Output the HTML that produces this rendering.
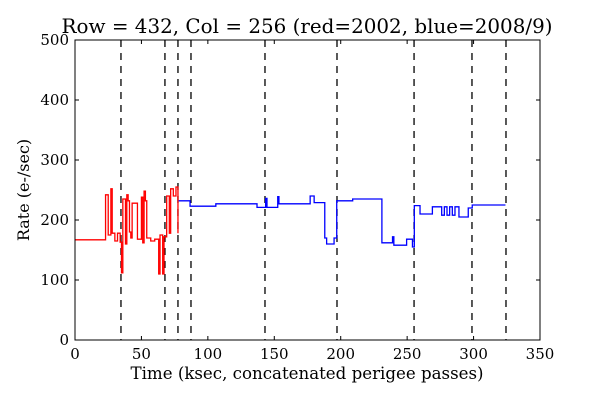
<!DOCTYPE html>
<html><head><meta charset="utf-8"><style>
body{margin:0;background:#fff;}
svg text{font-family:"DejaVu Serif","Liberation Serif",serif;fill:#000;}
</style></head><body>
<svg id="chart" width="600" height="400" xmlns="http://www.w3.org/2000/svg">
<rect width="600" height="400" fill="#fff"/>
<g id="marks"></g>
<rect x="75" y="40" width="465" height="300" fill="none" stroke="#000" stroke-width="1"/>
<g id="ticks"></g>
<text x="307" y="33" font-size="20" text-anchor="middle" textLength="491" lengthAdjust="spacingAndGlyphs">Row = 432, Col = 256 (red=2002, blue=2008/9)</text>
<text x="307" y="379" font-size="16.5" text-anchor="middle" textLength="353" lengthAdjust="spacingAndGlyphs">Time (ksec, concatenated perigee passes)</text>
<text transform="translate(29,190) rotate(-90)" font-size="16" text-anchor="middle">Rate (e-/sec)</text>
</svg>
<script>
const xTicks=[0,50,100,150,200,250,300,350];
const yTicks=[0,100,200,300,400,500];
const dividers=[34.6,67.7,77.5,87.3,143,197.2,255.2,298.8,324.4];
const redX=[0,23,25,27,28,30,32,34,35,36,38,39,40,41,42,43,47,50,51,52,53,54,57,60,63,64,66,67,69,71,72,74,76,77.5];
const redY=[167,242,175,252,178,165,178,163,112,235,160,242,232,180,170,228,168,238,162,248,232,170,165,168,110,175,110,172,240,178,252,240,255,178];
const blueX=[78,86.6,106,137,143.5,144.5,152.6,153.5,177,180,188,189.4,195,197,209,231,239,240,249.6,254,255.4,259.7,269,276,278,280,282,284,286,289,296,299,324];
const blueY=[232,223,227,221,236,221,239,227,240,229,170,160,170,232,235,162,172,158,168,155,224,210,222,208,222,208,222,208,222,205,220,225,225];
const X0=75,X1=540,Y0=340,Y1=40;
const sx=v=>X0+(v-0)/(350-0)*(X1-X0);
const sy=v=>Y0-(v-0)/(500-0)*(Y0-Y1);
const NS="http://www.w3.org/2000/svg";
const marks=document.getElementById('marks'),ticks=document.getElementById('ticks');
function stepPath(xs,ys,endX){let d='M'+sx(xs[0])+','+sy(ys[0]);for(let i=1;i<xs.length;i++){d+='H'+sx(xs[i])+'V'+sy(ys[i]);}d+='H'+sx(endX);return d;}
dividers.forEach(v=>{const l=document.createElementNS(NS,'line');


l.setAttribute('x1',sx(v));l.setAttribute('x2',sx(v));l.setAttribute('y1',Y1);l.setAttribute('y2',Y0);l.setAttribute('stroke','#000');l.setAttribute('stroke-width','1.3');l.setAttribute('stroke-dasharray','7,6');marks.appendChild(l);});
const r=document.createElementNS(NS,'path');


r.setAttribute('d',stepPath(redX,redY,redX[redX.length-1]));r.setAttribute('fill','none');r.setAttribute('stroke','#f00');r.setAttribute('stroke-width','1.3');marks.appendChild(r);
const b=document.createElementNS(NS,'path');


b.setAttribute('d',stepPath(blueX,blueY,blueX[blueX.length-1]));b.setAttribute('fill','none');b.setAttribute('stroke','#00f');b.setAttribute('stroke-width','1.3');marks.appendChild(b);
xTicks.forEach(v=>{const x=sx(v);
const t=document.createElementNS(NS,'path');


t.setAttribute('d',`M${x},${Y0}v-4M${x},${Y1}v4`);t.setAttribute('stroke','#000');ticks.appendChild(t);
const tx=document.createElementNS(NS,'text');


tx.setAttribute('x',x);tx.setAttribute('y',Y0+19);tx.setAttribute('font-size','15');tx.setAttribute('text-anchor','middle');tx.textContent=v;ticks.appendChild(tx);});
yTicks.forEach(v=>{const y=sy(v);
const t=document.createElementNS(NS,'path');


t.setAttribute('d',`M${X0},${y}h4M${X1},${y}h-4`);t.setAttribute('stroke','#000');ticks.appendChild(t);
const tx=document.createElementNS(NS,'text');


tx.setAttribute('x',X0-6);tx.setAttribute('y',y+5);tx.setAttribute('font-size','15');tx.setAttribute('text-anchor','end');tx.textContent=v;ticks.appendChild(tx);});
</script>
</body></html>
